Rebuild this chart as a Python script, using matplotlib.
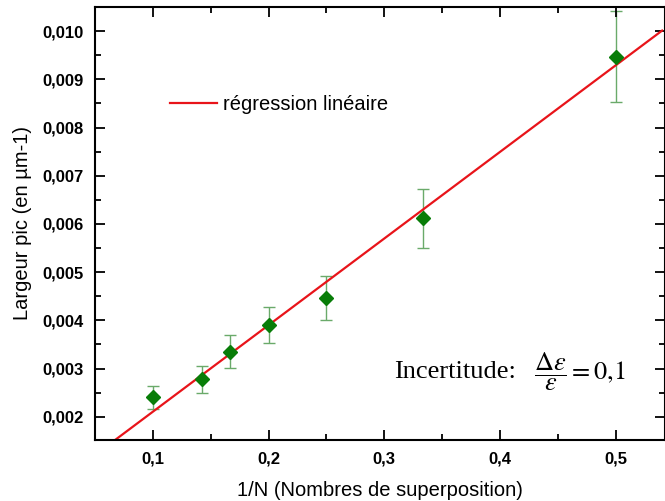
import matplotlib
matplotlib.use("Agg")
import matplotlib.pyplot as plt
from matplotlib.ticker import MultipleLocator, FuncFormatter
import numpy as np

# data
inv_n = [0.1, 1/7, 1/6, 0.2, 0.25, 1/3, 0.5]
largeur = [0.00240, 0.00278, 0.00335, 0.00390, 0.00446, 0.00612, 0.00947]
erreur = [0.00024, 0.00028, 0.00034, 0.00038, 0.00045, 0.00061, 0.00095]
pente = 0.01797
ordonnee = 0.000307
x_fit = [0.05, 0.54]

plt.rcParams['font.family'] = ['Liberation Sans', 'DejaVu Sans']
plt.rcParams['mathtext.fontset'] = 'stix'

fig = plt.figure(figsize=(6.65, 5.01), dpi=100)
ax = fig.add_axes([95/665, 61/501, 570/665, 433/501])

xf = np.array(x_fit)
ax.plot(xf, ordonnee + pente * xf, color='#e8141a', lw=1.6, label='régression linéaire', zorder=2)
ax.errorbar(inv_n, largeur, yerr=erreur, fmt='none', ecolor='#6aaa6a', elinewidth=1.0,
            capsize=4, capthick=1.0, zorder=1)
ax.plot(inv_n, largeur, linestyle='none', marker='D', color='#087d08', markersize=7.5, zorder=3)

ax.set_xlim(0.05, 0.5425)
ax.set_ylim(0.001517, 0.0105)

ax.xaxis.set_major_locator(MultipleLocator(0.1))
ax.xaxis.set_minor_locator(MultipleLocator(0.05))
ax.yaxis.set_major_locator(MultipleLocator(0.001))
ax.yaxis.set_minor_locator(MultipleLocator(0.0005))
ax.xaxis.set_major_formatter(FuncFormatter(lambda v, p: f"{v:.1f}".replace('.', ',')))
ax.yaxis.set_major_formatter(FuncFormatter(lambda v, p: f"{v:.3f}".replace('.', ',')))

ax.tick_params(which='both', direction='in', top=True, right=True, width=1.3)
ax.tick_params(which='major', length=7, labelsize=12, pad=8)
ax.tick_params(which='minor', length=4)
for lab in ax.get_xticklabels() + ax.get_yticklabels():
    lab.set_fontweight('bold')
for s in ax.spines.values():
    s.set_linewidth(1.5)

ax.set_xlabel('1/N (Nombres de superposition)', fontsize=14.5, labelpad=11)
ax.set_ylabel('Largeur pic (en µm-1)', fontsize=14.5, labelpad=8)

leg = ax.legend(loc='center left', bbox_to_anchor=(0.099, 0.774), frameon=False, fontsize=14.5,
                handlelength=2.35, handletextpad=0.3)

ax.text(394, 501-378, 'Incertitude:', transform=None, fontsize=19,
        family='Liberation Serif', va='baseline', ha='left')
ax.text(534, 501-372, r'$\dfrac{\Delta\varepsilon}{\varepsilon} = 0{,}1$', transform=None,
        fontsize=19, va='center', ha='left')

fig.savefig('out.png', dpi=100)
